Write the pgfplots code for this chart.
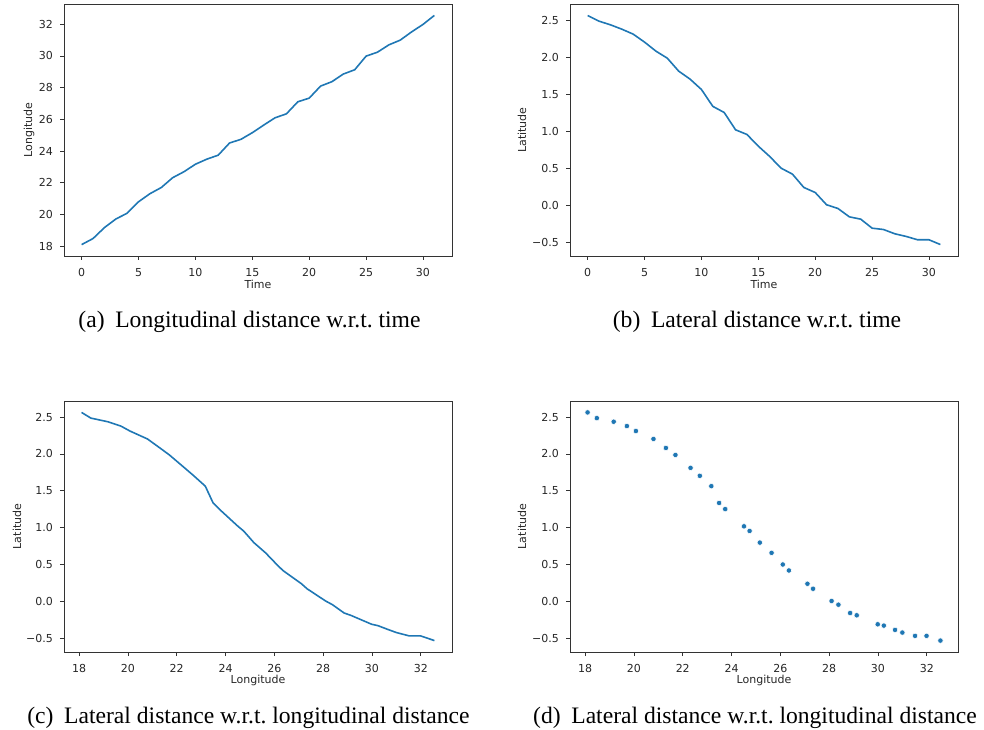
\documentclass[border=0pt]{standalone}
\usepackage{fontspec}
\setmainfont{Liberation Serif}
\newfontfamily\dejavu{DejaVu Sans}
\usepackage{pgfplots}
\pgfplotsset{compat=1.18}
\usepackage{pgfplotstable}
\definecolor{mplblue}{HTML}{1F77B4}

\pgfplotstableread{
t lon lat
0 18.10 2.563
1 18.48 2.486
2 19.17 2.437
3 19.71 2.378
4 20.08 2.311
5 20.80 2.203
6 21.31 2.081
7 21.70 1.986
8 22.32 1.811
9 22.70 1.703
10 23.17 1.563
11 23.49 1.335
12 23.74 1.252
13 24.51 1.018
14 24.74 0.955
15 25.16 0.797
16 25.64 0.658
17 26.10 0.500
18 26.35 0.419
19 27.11 0.239
20 27.34 0.171
21 28.10 0.005
22 28.38 -0.045
23 28.86 -0.158
24 29.13 -0.189
25 29.99 -0.311
26 30.24 -0.329
27 30.70 -0.387
28 31.00 -0.423
29 31.52 -0.468
30 31.99 -0.468
31 32.56 -0.532
}\data

\newcommand{\tickfont}{\dejavu\fontsize{5.5}{6.6}\selectfont}
\newcommand{\capfont}{\fontsize{11.8}{14}\selectfont}

\pgfplotsset{
  mpl/.style={
    scale only axis, width=194pt, height=126pt,
    anchor=south west,
    /pgf/number format/assume math mode=true,
    axis line style={black!80, line width=0.45pt},
    tick align=outside, major tick length=2pt,
    tick style={black!80, line width=0.4pt},
    xtick pos=left, ytick pos=left,
    tick label style={font=\tickfont, text=black!85},
    label style={font=\tickfont, text=black!85},
    xlabel style={at={(axis description cs:0.5,0)}, anchor=center, yshift=-14pt},
    xticklabel style={yshift=-0.5pt},
    clip=false,
  },
  timeax/.style={xmin=-1.55, xmax=32.55, xtick={0,5,...,30}},
  lonax/.style={xmin=17.38, xmax=33.28, xtick={18,20,...,32}},
  latay/.style={ymin=-0.687, ymax=2.718, ytick={-0.5,0,0.5,1,1.5,2,2.5},
    yticklabels={−0.5,0.0,0.5,1.0,1.5,2.0,2.5}},
}

\begin{document}
\begin{tikzpicture}
\path[use as bounding box] (0,0) rectangle (492pt,364.5pt);

% (a)
\begin{axis}[mpl, timeax, at={(32pt,236.5pt)},
  ymin=17.38, ymax=33.28, ytick={18,20,...,32},
  xlabel={Time}, ylabel={Longitude},
  ylabel style={at={(axis description cs:0,0.5)}, anchor=center, yshift=17.5pt}]
\addplot[mplblue, line width=0.8pt] table[x=t, y=lon] {\data};
\end{axis}

% (b)
\begin{axis}[mpl, timeax, latay, at={(285pt,236.5pt)},
  xlabel={Time}, ylabel={Latitude},
  ylabel style={at={(axis description cs:0,0.5)}, anchor=center, yshift=24pt}]
\addplot[mplblue, line width=0.8pt] table[x=t, y=lat] {\data};
\end{axis}

% (c)
\begin{axis}[mpl, lonax, latay, at={(32pt,38.5pt)}, height=125.5pt,
  xlabel={Longitude}, ylabel={Latitude},
  ylabel style={at={(axis description cs:0,0.5)}, anchor=center, yshift=23.5pt}]
\addplot[mplblue, line width=0.8pt] table[x=lon, y=lat] {\data};
\end{axis}

% (d)
\begin{axis}[mpl, lonax, latay, at={(285pt,38.5pt)}, height=125.5pt,
  xlabel={Longitude}, ylabel={Latitude},
  ylabel style={at={(axis description cs:0,0.5)}, anchor=center, yshift=24pt}]
\addplot[only marks, mark=*, mark size=1.35pt,
  mark options={fill=mplblue, draw=white, line width=0.25pt}]
  table[x=lon, y=lat] {\data};
\end{axis}

\node[anchor=base, font=\capfont] at (124.75pt,200.6pt) {(a)\hspace{0.45em}Longitudinal distance w.r.t.\ time};
\node[anchor=base, font=\capfont] at (378.5pt,200.6pt) {(b)\hspace{0.45em}Lateral distance w.r.t.\ time};
\node[anchor=base, font=\capfont] at (124.25pt,3pt) {(c)\hspace{0.45em}Lateral distance w.r.t.\ longitudinal distance};
\node[anchor=base, font=\capfont] at (377.5pt,3pt) {(d)\hspace{0.45em}Lateral distance w.r.t.\ longitudinal distance};
\end{tikzpicture}
\end{document}
